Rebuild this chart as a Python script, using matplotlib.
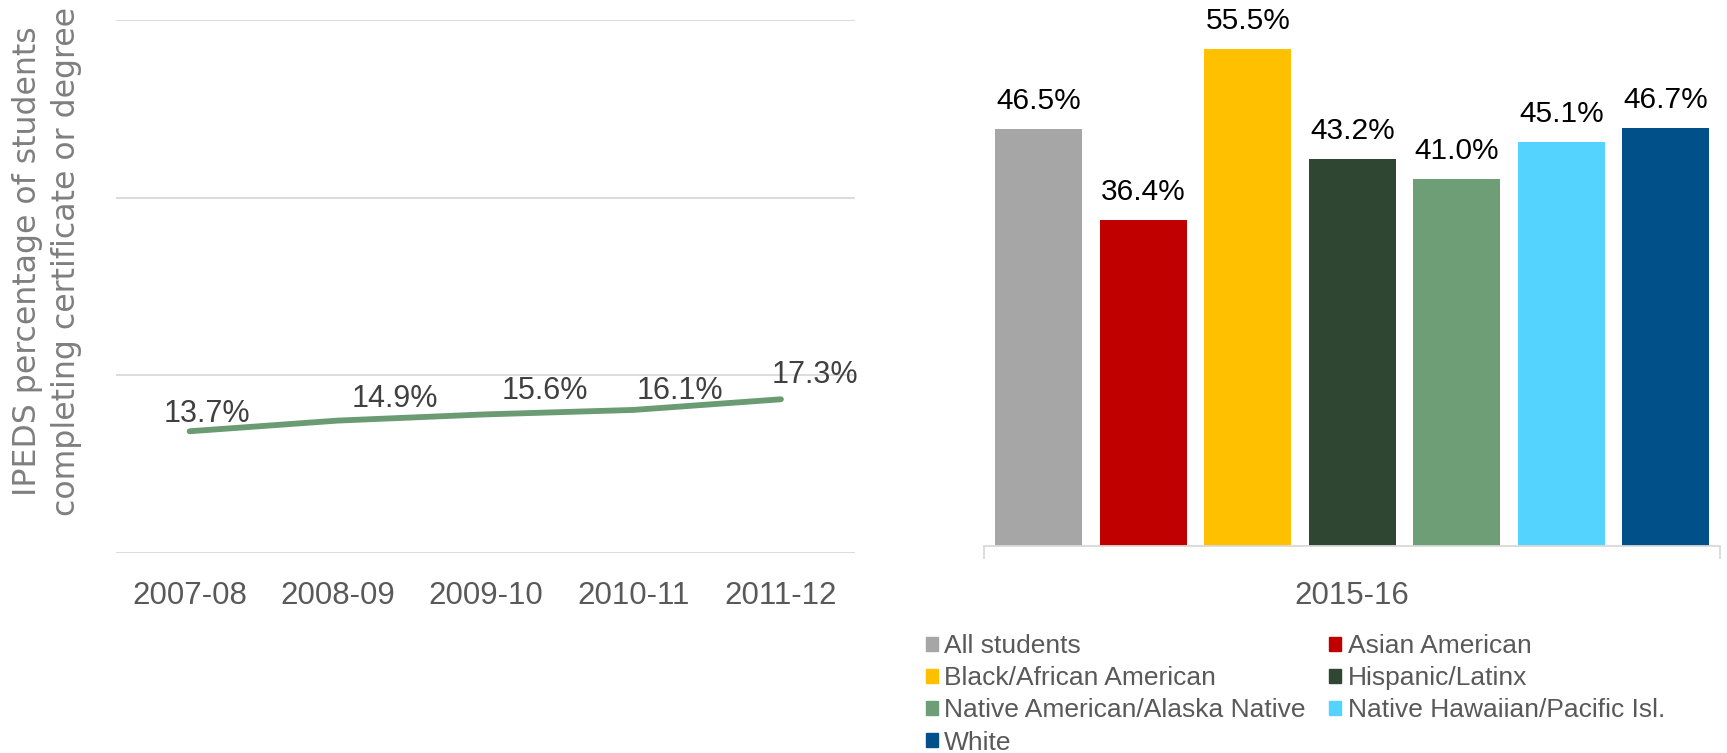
import matplotlib
matplotlib.use("Agg")
import matplotlib.pyplot as plt
from matplotlib.patches import Patch

# data
years = ["2007-08", "2008-09", "2009-10", "2010-11", "2011-12"]
ipeds_pct = [13.7, 14.9, 15.6, 16.1, 17.3]

groups = ["All students", "Asian American", "Black/African American", "Hispanic/Latinx",
          "Native American/Alaska Native", "Native Hawaiian/Pacific Isl.", "White"]
pct_2015 = [46.5, 36.4, 55.5, 43.2, 41.0, 45.1, 46.7]
group_colors = ["#a6a6a6", "#c00000", "#ffc000", "#2f4632", "#6e9e76", "#55d3ff", "#02508a"]

plt.rcParams["font.family"] = ["Liberation Sans", "DejaVu Sans"]

fig = plt.figure(figsize=(17.27, 7.53), dpi=100)

# left: line chart
ax1 = fig.add_axes([0.067, 0.2656, 0.428, 0.708])
x = list(range(len(years)))
ax1.plot(x, ipeds_pct, color="#6a9b72", lw=4.2, solid_capstyle="round")
ax1.set_xlim(-0.5, len(years) - 0.5)
ax1.set_ylim(0, 60)
ax1.set_yticks([0, 20, 40, 60])
ax1.grid(axis="y", color="#d9d9d9", lw=1.3)
ax1.set_axisbelow(True)
for s in ax1.spines.values():
    s.set_visible(False)
ax1.tick_params(axis="y", length=0, labelleft=False)
ax1.tick_params(axis="x", length=0, pad=20, labelsize=22.5, labelcolor="#595959")
ax1.set_xticks(x)
ax1.set_xticklabels(years)
# label offsets as placed in the original
lab_dx = [0.12, 0.39, 0.40, 0.32, 0.23]
lab_y = [15.6, 17.3, 18.2, 18.2, 20.0]
for i, v in enumerate(ipeds_pct):
    ax1.text(i + lab_dx[i], lab_y[i], f"{v:.1f}%", ha="center", va="center",
             fontsize=22, color="#404040")
fig.text(0.0272, 0.653, "IPEDS percentage of students\ncompleting certificate or degree",
         rotation=90, ha="center", va="center", family="DejaVu Sans", fontsize=22.7,
         color="#7f7f7f", linespacing=1.3, multialignment="center")

# right: bar chart
ax2 = fig.add_axes([0.5695, 0.2745, 0.4265, 0.7145])
bx = [i - 3 for i in range(len(groups))]
ax2.bar(bx, pct_2015, width=0.832, color=group_colors)
for xi, v in zip(bx, pct_2015):
    ax2.annotate(f"{v:.1f}%", (xi, v), xytext=(0, 10), textcoords="offset points",
                 ha="center", va="bottom", fontsize=21.5, color="#000000")
ax2.set_xlim(-3.53, 3.52)
ax2.set_ylim(0, 60)
for k in ["top", "right", "left"]:
    ax2.spines[k].set_visible(False)
ax2.spines["bottom"].set_color("#d9d9d9")
ax2.spines["bottom"].set_linewidth(1.3)
ax2.set_yticks([])
ax2.set_xticks([-3.53, 3.52])
ax2.set_xticklabels(["", ""])
ax2.tick_params(axis="x", length=9, width=1.3, color="#d9d9d9")
ax2.text(0.5, -0.093, "2015-16", transform=ax2.transAxes, ha="center", va="center",
         fontsize=22.5, color="#595959")

# legend, filled row by row like the original
order = [0, 2, 4, 6, 1, 3, 5]
handles = [Patch(color=group_colors[i], label=groups[i]) for i in order]
fig.legend(handles=handles, loc="upper left", bbox_to_anchor=(0.536, 0.158), ncol=2,
           frameon=False, fontsize=19, labelcolor="#595959", handlelength=0.45,
           handleheight=0.45, handletextpad=0.25, columnspacing=0.9,
           labelspacing=0.31, borderaxespad=0, borderpad=0)

fig.savefig("out.png", dpi=100)
